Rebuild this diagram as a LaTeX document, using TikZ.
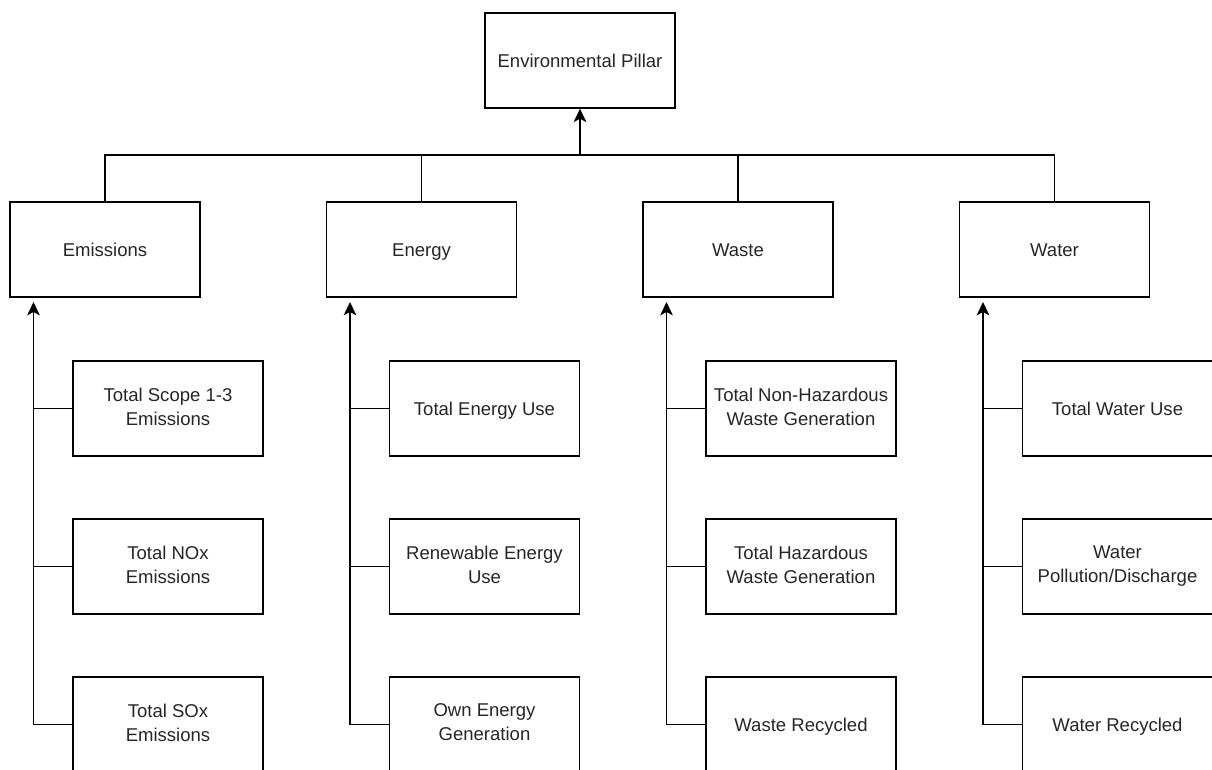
\documentclass[tikz,border=0pt]{standalone}
\usepackage{fontspec}
\setmainfont{Liberation Sans}
\usetikzlibrary{arrows.meta}
\newcommand{\bxstrut}{\rule[-3pt]{0pt}{16pt}}
\begin{document}
\begin{tikzpicture}[x=0.75pt,y=-0.75pt,
  box/.style={draw=black,line width=1.1pt,fill=white,minimum width=142.5pt,minimum height=71.25pt,
    inner sep=2pt,align=center,text=black!85,font=\fontsize{13.9}{18}\selectfont,
    execute at begin node=\bxstrut, execute at end node=\bxstrut},
  conn/.style={draw=black,line width=1.1pt},
  arr/.style={conn,-{Stealth[length=10pt,width=9.5pt,inset=2.5pt]}}]
\useasboundingbox (0,0) rectangle (1212,769);
\clip (0,0) rectangle (1212,769);
% top
\node[box] (top) at (580,60.5) {Environmental Pillar};
% level 1
\node[box] (em) at (105,249.5) {Emissions};
\node[box] (en) at (421.5,249.5) {Energy};
\node[box] (ws) at (738,249.5) {Waste};
\node[box] (wt) at (1054.5,249.5) {Water};
% children
\node[box] (em1) at (168,408.5) {Total Scope 1-3\\Emissions};
\node[box] (em2) at (168,566.5) {Total NOx\\Emissions};
\node[box] (em3) at (168,724.5) {Total SOx\\Emissions};
\node[box] (en1) at (484.5,408.5) {Total Energy Use};
\node[box] (en2) at (484.5,566.5) {Renewable Energy\\Use};
\node[box] (en3) at (484.5,724.5) {Own Energy\\Generation};
\node[box] (ws1) at (801,408.5) {Total Non-Hazardous\\Waste Generation};
\node[box] (ws2) at (801,566.5) {Total Hazardous\\Waste Generation};
\node[box] (ws3) at (801,724.5) {Waste Recycled};
\node[box] (wt1) at (1117.5,408.5) {Total Water Use};
\node[box] (wt2) at (1117.5,566.5) {Water\\Pollution/Discharge};
\node[box] (wt3) at (1117.5,724.5) {Water Recycled};
% bus
\coordinate (bus) at (580,155);
\draw[conn] (em.north) -- (em.north |- bus) -- (wt.north |- bus) -- (wt.north);
\draw[conn] (en.north) -- (en.north |- bus);
\draw[conn] (ws.north) -- (ws.north |- bus);
\draw[arr] (bus) -- (top.south);
% trunks
\coordinate (emT) at (33.5,302);
\coordinate (enT) at (350,302);
\coordinate (wsT) at (666.5,302);
\coordinate (wtT) at (983,302);
\draw[arr] (em3.west) -| (emT);
\draw[conn] (em1.west) -- (em1.west -| emT);
\draw[conn] (em2.west) -- (em2.west -| emT);
\draw[arr] (en3.west) -| (enT);
\draw[conn] (en1.west) -- (en1.west -| enT);
\draw[conn] (en2.west) -- (en2.west -| enT);
\draw[arr] (ws3.west) -| (wsT);
\draw[conn] (ws1.west) -- (ws1.west -| wsT);
\draw[conn] (ws2.west) -- (ws2.west -| wsT);
\draw[arr] (wt3.west) -| (wtT);
\draw[conn] (wt1.west) -- (wt1.west -| wtT);
\draw[conn] (wt2.west) -- (wt2.west -| wtT);
\end{tikzpicture}
\end{document}
